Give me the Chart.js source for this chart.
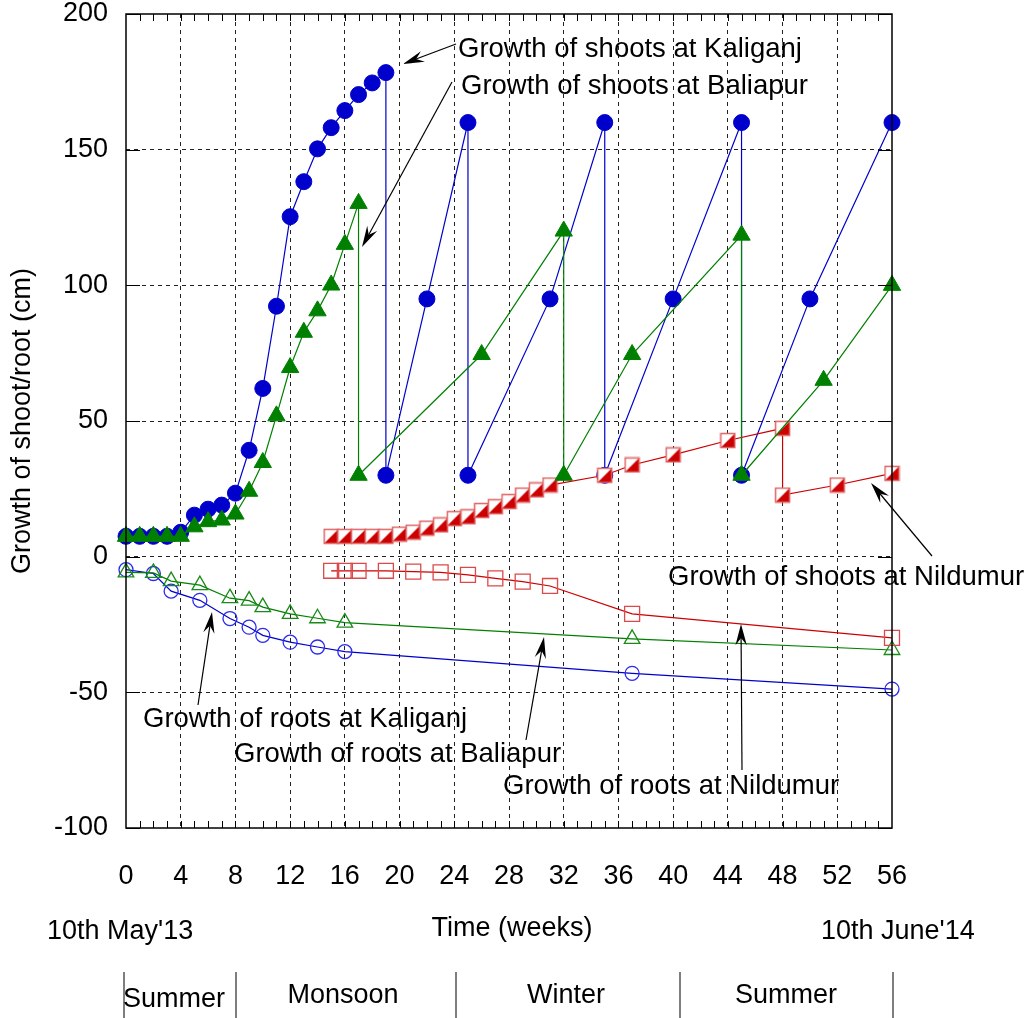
<!DOCTYPE html>
<html>
<head>
<meta charset="utf-8">
<script src="https://cdn.jsdelivr.net/npm/chart.js@4.4.1/dist/chart.umd.min.js"></script>
<style>
  body { margin: 0; background: #fff; }
  canvas { display: block; }
</style>
</head>
<body>
<canvas id="myChart" width="1029" height="1018"></canvas>
<script>
// shoots (cm), weeks since 10th May'13
const kaliShootWeeks = [0,1,2,3,4,5,6,7,8,9,10,11,12,13,14,15,16,17,18,19, 19,22,25, 25,31,35, 35,40,45, 45,50,56];
const kaliShoot = [7.5,7.5,7.5,7.5,9,15.3,17.5,19,23.4,39.2,62,92.3,125.3,138.2,150.3,158.1,164.4,170.3,174.6,178.4, 30,95,160, 30,95,160, 30,95,160, 30,95,160];

const baliShootWeeks = [0,1,2,3,4,5,6,7,8,9,10,11,12,13,14,15,16,17, 17,26,32, 32,37,45, 45,51,56];
const baliShoot = [7.5,7.5,7.5,7.5,7.5,11,12.9,13.5,15.7,24.1,34.7,51.9,69.7,82.7,90.6,100.1,115.1,130.2, 30,74.5,120, 30,74.5,118.5, 30,65,100];

const nildShootWeeks = [15,16,17,18,19,20,21,22,23,24,25,26,27,28,29,30,31, 35,37,40,44,48, 48,52,56];
const nildShoot = [7.5,7.5,7.5,7.5,7.5,8.3,9,10.5,11.7,14,14.7,17,18.4,20.3,22.7,24.6,26.4, 30,33.8,37.5,42.8,47.3, 22.7,26.4,30.7];

// roots (cm, negative = downward)
const rootWeeks = [0,2,3.3,5.4,7.6,9,10,12,14,16,37,56];
const kaliRoot = [-4.8,-6.2,-12.7,-16.1,-22.8,-26,-29,-31.5,-33.3,-35,-43,-48.8];
const baliRoot = [-5.8,-6,-9,-10.5,-15.3,-16.2,-18.6,-21.1,-22.7,-24.3,-30.3,-34.4];
const nildRootWeeks = [15,16,17,19,21,23,25,27,29,31,37,56];
const nildRoot = [-5.2,-5.2,-5.2,-5.2,-5.5,-5.8,-6.7,-8,-9.2,-10.8,-21.1,-29.9];

const xTicks = [0,4,8,12,16,20,24,28,32,36,40,44,48,52,56];
const yTicks = [-100,-50,0,50,100,150,200];

const FONT = '"Liberation Sans", Arial, sans-serif';
const BLUE = "#0000cc";
const GREEN = "#008000";
const RED = "#cc0000";

function pts(xs, ys) {
  return xs.map((x, i) => ({ x: x, y: ys[i] }));
}

// half filled square marker
function halfSquare() {
  const c = document.createElement("canvas");
  c.width = 17; c.height = 17;
  const g = c.getContext("2d");
  g.fillStyle = "#fff";
  g.fillRect(1, 1, 15, 15);
  g.beginPath();
  g.moveTo(1.5, 15.5); g.lineTo(15.5, 1.5); g.lineTo(15.5, 15.5); g.closePath();
  g.fillStyle = RED;
  g.fill();
  g.strokeStyle = "#e06464";
  g.lineWidth = 1.5;
  g.strokeRect(1.5, 1.5, 14, 14);
  return c;
}

function arrow(ctx, x1, y1, x2, y2) {
  const a = Math.atan2(y2 - y1, x2 - x1);
  const L = 22, notch = 14, half = 0.26;
  ctx.save();
  ctx.strokeStyle = "#000";
  ctx.fillStyle = "#000";
  ctx.lineWidth = 1.2;
  ctx.beginPath();
  ctx.moveTo(x1, y1);
  ctx.lineTo(x2 - notch * Math.cos(a), y2 - notch * Math.sin(a));
  ctx.stroke();
  ctx.beginPath();
  ctx.moveTo(x2, y2);
  ctx.lineTo(x2 - L * Math.cos(a - half), y2 - L * Math.sin(a - half));
  ctx.lineTo(x2 - notch * Math.cos(a), y2 - notch * Math.sin(a));
  ctx.lineTo(x2 - L * Math.cos(a + half), y2 - L * Math.sin(a + half));
  ctx.closePath();
  ctx.fill();
  ctx.restore();
}

const extras = {
  id: "extras",
  afterDraw(chart) {
    const ctx = chart.ctx;
    const a = chart.chartArea;
    const xs = chart.scales.x, ys = chart.scales.y;
    ctx.save();
    // frame
    ctx.strokeStyle = "#000";
    ctx.lineWidth = 1.5;
    ctx.strokeRect(a.left, a.top, a.right - a.left, a.bottom - a.top);
    // minor week ticks top and bottom
    ctx.lineWidth = 1;
    ctx.beginPath();
    for (let w = 1; w < 56; w++) {
      const px = Math.round(xs.getPixelForValue(w)) + 0.5;
      ctx.moveTo(px, a.top); ctx.lineTo(px, a.top + 7);
      ctx.moveTo(px, a.bottom); ctx.lineTo(px, a.bottom - 7);
    }
    // y ticks inward on both sides
    yTicks.forEach((v) => {
      const py = Math.round(ys.getPixelForValue(v)) + 0.5;
      ctx.moveTo(a.left, py); ctx.lineTo(a.left + 14, py);
      ctx.moveTo(a.right, py); ctx.lineTo(a.right - 14, py);
    });
    ctx.stroke();

    // texts
    ctx.fillStyle = "#000";
    ctx.font = "27.5px " + FONT;
    ctx.textBaseline = "alphabetic";
    ctx.textAlign = "left";
    ctx.fillText("Growth of shoots at Kaliganj", 458, 57);
    ctx.fillText("Growth of shoots at Baliapur", 461, 94);
    ctx.fillText("Growth of shoots at Nildumur", 668, 585);
    ctx.fillText("Growth of roots at Kaliganj", 143, 727);
    ctx.fillText("Growth of roots at Baliapur", 234, 762);
    ctx.fillText("Growth of roots at Nildumur", 503, 794);

    arrow(ctx, 456, 44, 403, 64);
    arrow(ctx, 452, 82, 362, 247);
    arrow(ctx, 932, 556, 871, 483);
    arrow(ctx, 198, 705, 212, 612);
    arrow(ctx, 526, 740, 544, 637);
    arrow(ctx, 742, 770, 741, 624);

    ctx.font = "27px " + FONT;
    ctx.fillText("10th May'13", 47, 939);
    ctx.fillText("10th June'14", 821, 939);
    ctx.textAlign = "center";
    ctx.fillText("Time (weeks)", 512, 936);

    // seasons
    ctx.strokeStyle = "#555";
    ctx.lineWidth = 1.5;
    ctx.beginPath();
    [124, 236, 456, 680, 893].forEach((px) => {
      ctx.moveTo(px, 972); ctx.lineTo(px, 1018);
    });
    ctx.stroke();
    ctx.fillText("Summer", 174, 1007);
    ctx.fillText("Monsoon", 343, 1003);
    ctx.fillText("Winter", 566, 1003);
    ctx.fillText("Summer", 786, 1003);

    // y title
    ctx.translate(30, 421);
    ctx.rotate(-Math.PI / 2);
    ctx.textAlign = "center";
    ctx.fillText("Growth of shoot/root (cm)", 0, 0);
    ctx.restore();
  },
};

const sq = halfSquare();

new Chart(document.getElementById("myChart"), {
  type: "line",
  data: {
    datasets: [
      {
        label: "Growth of shoots at Kaliganj",
        data: pts(kaliShootWeeks, kaliShoot),
        borderColor: BLUE, borderWidth: 1.2,
        pointStyle: "circle", pointRadius: 8,
        pointBackgroundColor: BLUE, pointBorderColor: BLUE, pointBorderWidth: 1,
        order: 6,
      },
      {
        label: "Growth of shoots at Nildumur",
        data: pts(nildShootWeeks, nildShoot),
        borderColor: RED, borderWidth: 1.2,
        pointStyle: sq, pointRadius: 8,
        order: 5,
      },
      {
        label: "Growth of shoots at Baliapur",
        data: pts(baliShootWeeks, baliShoot),
        borderColor: GREEN, borderWidth: 1.2,
        pointStyle: "triangle", pointRadius: 10,
        pointBackgroundColor: GREEN, pointBorderColor: GREEN, pointBorderWidth: 1,
        order: 4,
      },
      {
        label: "Growth of roots at Kaliganj",
        data: pts(rootWeeks, kaliRoot),
        borderColor: BLUE, borderWidth: 1.2,
        pointStyle: "circle", pointRadius: 7,
        pointBackgroundColor: "rgba(0,0,0,0)", pointBorderColor: "#2a2aee", pointBorderWidth: 1.3,
        order: 3,
      },
      {
        label: "Growth of roots at Baliapur",
        data: pts(rootWeeks, baliRoot),
        borderColor: GREEN, borderWidth: 1.2,
        pointStyle: "triangle", pointRadius: 9,
        pointBackgroundColor: "rgba(0,0,0,0)", pointBorderColor: "#1a8a1a", pointBorderWidth: 1.3,
        order: 2,
      },
      {
        label: "Growth of roots at Nildumur",
        data: pts(nildRootWeeks, nildRoot),
        borderColor: RED, borderWidth: 1.2,
        pointStyle: "rect", pointRadius: 10.6,
        pointBackgroundColor: "rgba(0,0,0,0)", pointBorderColor: "#dd4848", pointBorderWidth: 1.3,
        order: 1,
      },
    ],
  },
  options: {
    responsive: false,
    animation: false,
    devicePixelRatio: 1,
    clip: false,
    layout: { autoPadding: false, padding: { left: 0, right: 137, top: 14, bottom: 0 } },
    plugins: {
      legend: { display: false },
      tooltip: { enabled: false },
    },
    elements: { line: { tension: 0 } },
    scales: {
      x: {
        type: "linear",
        min: 0, max: 56,
        afterFit: (s) => { s.height = 190; s.paddingLeft = 0; s.paddingRight = 0; },
        afterBuildTicks: (s) => { s.ticks = xTicks.map((v) => ({ value: v })); },
        ticks: {
          color: "#000",
          font: { family: FONT, size: 27, lineHeight: 1 },
          padding: 35,
          maxRotation: 0,
          autoSkip: false,
        },
        grid: {
          drawTicks: false,
          color: (c) => (c.tick && (c.tick.value === 0 || c.tick.value === 56) ? "rgba(0,0,0,0)" : "#222"),
          lineWidth: 1,
        },
        border: { display: false, dash: [4, 4] },
      },
      y: {
        min: -100, max: 200,
        afterFit: (s) => { s.width = 126; s.paddingTop = 0; s.paddingBottom = 0; },
        afterBuildTicks: (s) => { s.ticks = yTicks.map((v) => ({ value: v })); },
        ticks: {
          color: "#000",
          font: { family: FONT, size: 27, lineHeight: 1 },
          padding: 18,
        },
        grid: {
          drawTicks: false,
          color: (c) => (c.tick && (c.tick.value === -100 || c.tick.value === 200) ? "rgba(0,0,0,0)" : "#222"),
          lineWidth: 1,
        },
        border: { display: false, dash: [4, 4] },
      },
    },
  },
  plugins: [extras],
});
</script>
</body>
</html>
